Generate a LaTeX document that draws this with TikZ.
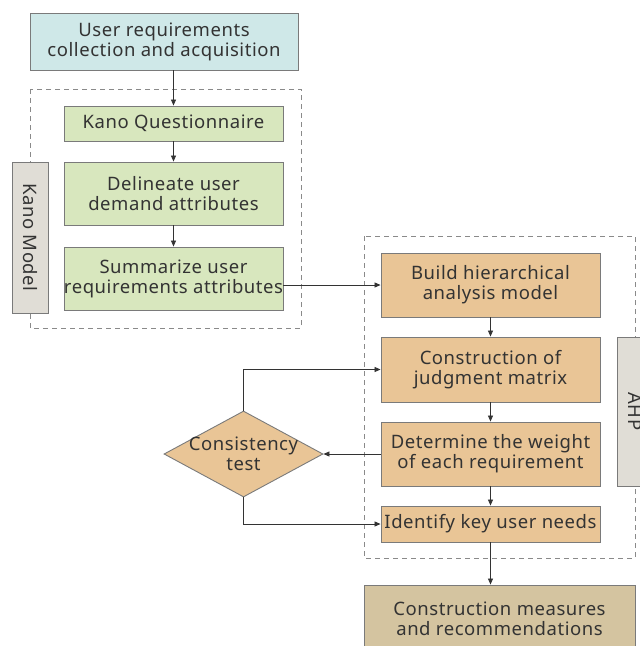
\documentclass[tikz,border=0pt]{standalone}
\usepackage{fontspec}
\setmainfont[LetterSpace=3]{Noto Sans}
\usetikzlibrary{shapes.geometric,arrows.meta}
\definecolor{txt}{HTML}{333333}
\definecolor{bord}{HTML}{7A7A7A}
\definecolor{cyanf}{HTML}{CFE8E8}
\definecolor{greenf}{HTML}{D8E7BE}
\definecolor{orangef}{HTML}{E9C596}
\definecolor{tanf}{HTML}{D4C4A0}
\definecolor{grayf}{HTML}{E0DDD6}
\definecolor{dashc}{HTML}{8A8A8A}
\tikzset{
  box/.style={draw=bord, line width=0.9pt, rectangle, inner sep=0pt, align=center,
    text=txt, font=\fontsize{18.5}{20}\selectfont},
  gbox/.style={box, fill=greenf, minimum width=219pt},
  obox/.style={box, fill=orangef, minimum width=219pt},
  lbl/.style={box, fill=grayf, rotate=-90},
  grp/.style={draw=dashc, line width=0.8pt, dash pattern=on 5pt off 4pt},
  arr/.style={draw=txt, line width=0.8pt, -{Triangle[length=6pt,width=5pt]}},
}
\begin{document}
\begin{tikzpicture}[x=1pt,y=-1pt]
\clip (0,0) rectangle (640,646);
\fill[white] (0,0) rectangle (640,646);
% group frames
\draw[grp] (30,89) rectangle (301,328);
\draw[grp] (364,236) rectangle (635,558);
% nodes
\node[box, fill=cyanf, minimum width=268pt, minimum height=57pt] (top) at (164,41.5) {User requirements\\collection and acquisition};
\node[gbox, minimum height=35pt] (kq) at (173.5,123.5) {Kano Questionnaire};
\node[gbox, minimum height=63pt] (del) at (173.5,193.5) {Delineate user\\demand attributes};
\node[gbox, minimum height=63pt] (sum) at (173.5,278.5) {Summarize user\\requirements attributes};
\node[lbl, minimum width=151pt, minimum height=36pt] (kano) at (30,237.5) {Kano Model};
\node[obox, minimum height=64pt] (build) at (490.5,285) {Build hierarchical\\analysis model};
\node[obox, minimum height=65pt] (cjm) at (490.5,369.5) {Construction of\\judgment matrix};
\node[obox, minimum height=64pt] (det) at (490.5,454) {Determine the weight\\of each requirement};
\node[obox, minimum height=36pt] (idn) at (490.5,524) {Identify key user needs};
\node[lbl, minimum width=149pt, minimum height=36pt] (ahp) at (635,411.5) {AHP};
\node[box, fill=tanf, minimum width=271pt, minimum height=67pt] (bot) at (499.5,618.5) {Construction measures\\and recommendations};
\node[box, diamond, fill=orangef, aspect=1.85, inner sep=-3.6pt, minimum width=159pt, minimum height=86pt] (dia) at (243.5,454) {Consistency\\test};
% connectors
\draw[arr] (top.south -| kq.north) -- (kq.north);
\draw[arr] (kq) -- (del);
\draw[arr] (del) -- (sum);
\draw[arr] (sum.east |- build.west) -- (build.west);
\draw[arr] (build) -- (cjm);
\draw[arr] (cjm) -- (det);
\draw[arr] (det) -- (idn);
\draw[arr] (det.west) -- (dia.east);
\draw[arr] (dia.north) |- (cjm.west);
\draw[arr] (dia.south) |- (idn.west);
\draw[arr] (idn.south) -- (idn.south |- bot.north);
\end{tikzpicture}
\end{document}
